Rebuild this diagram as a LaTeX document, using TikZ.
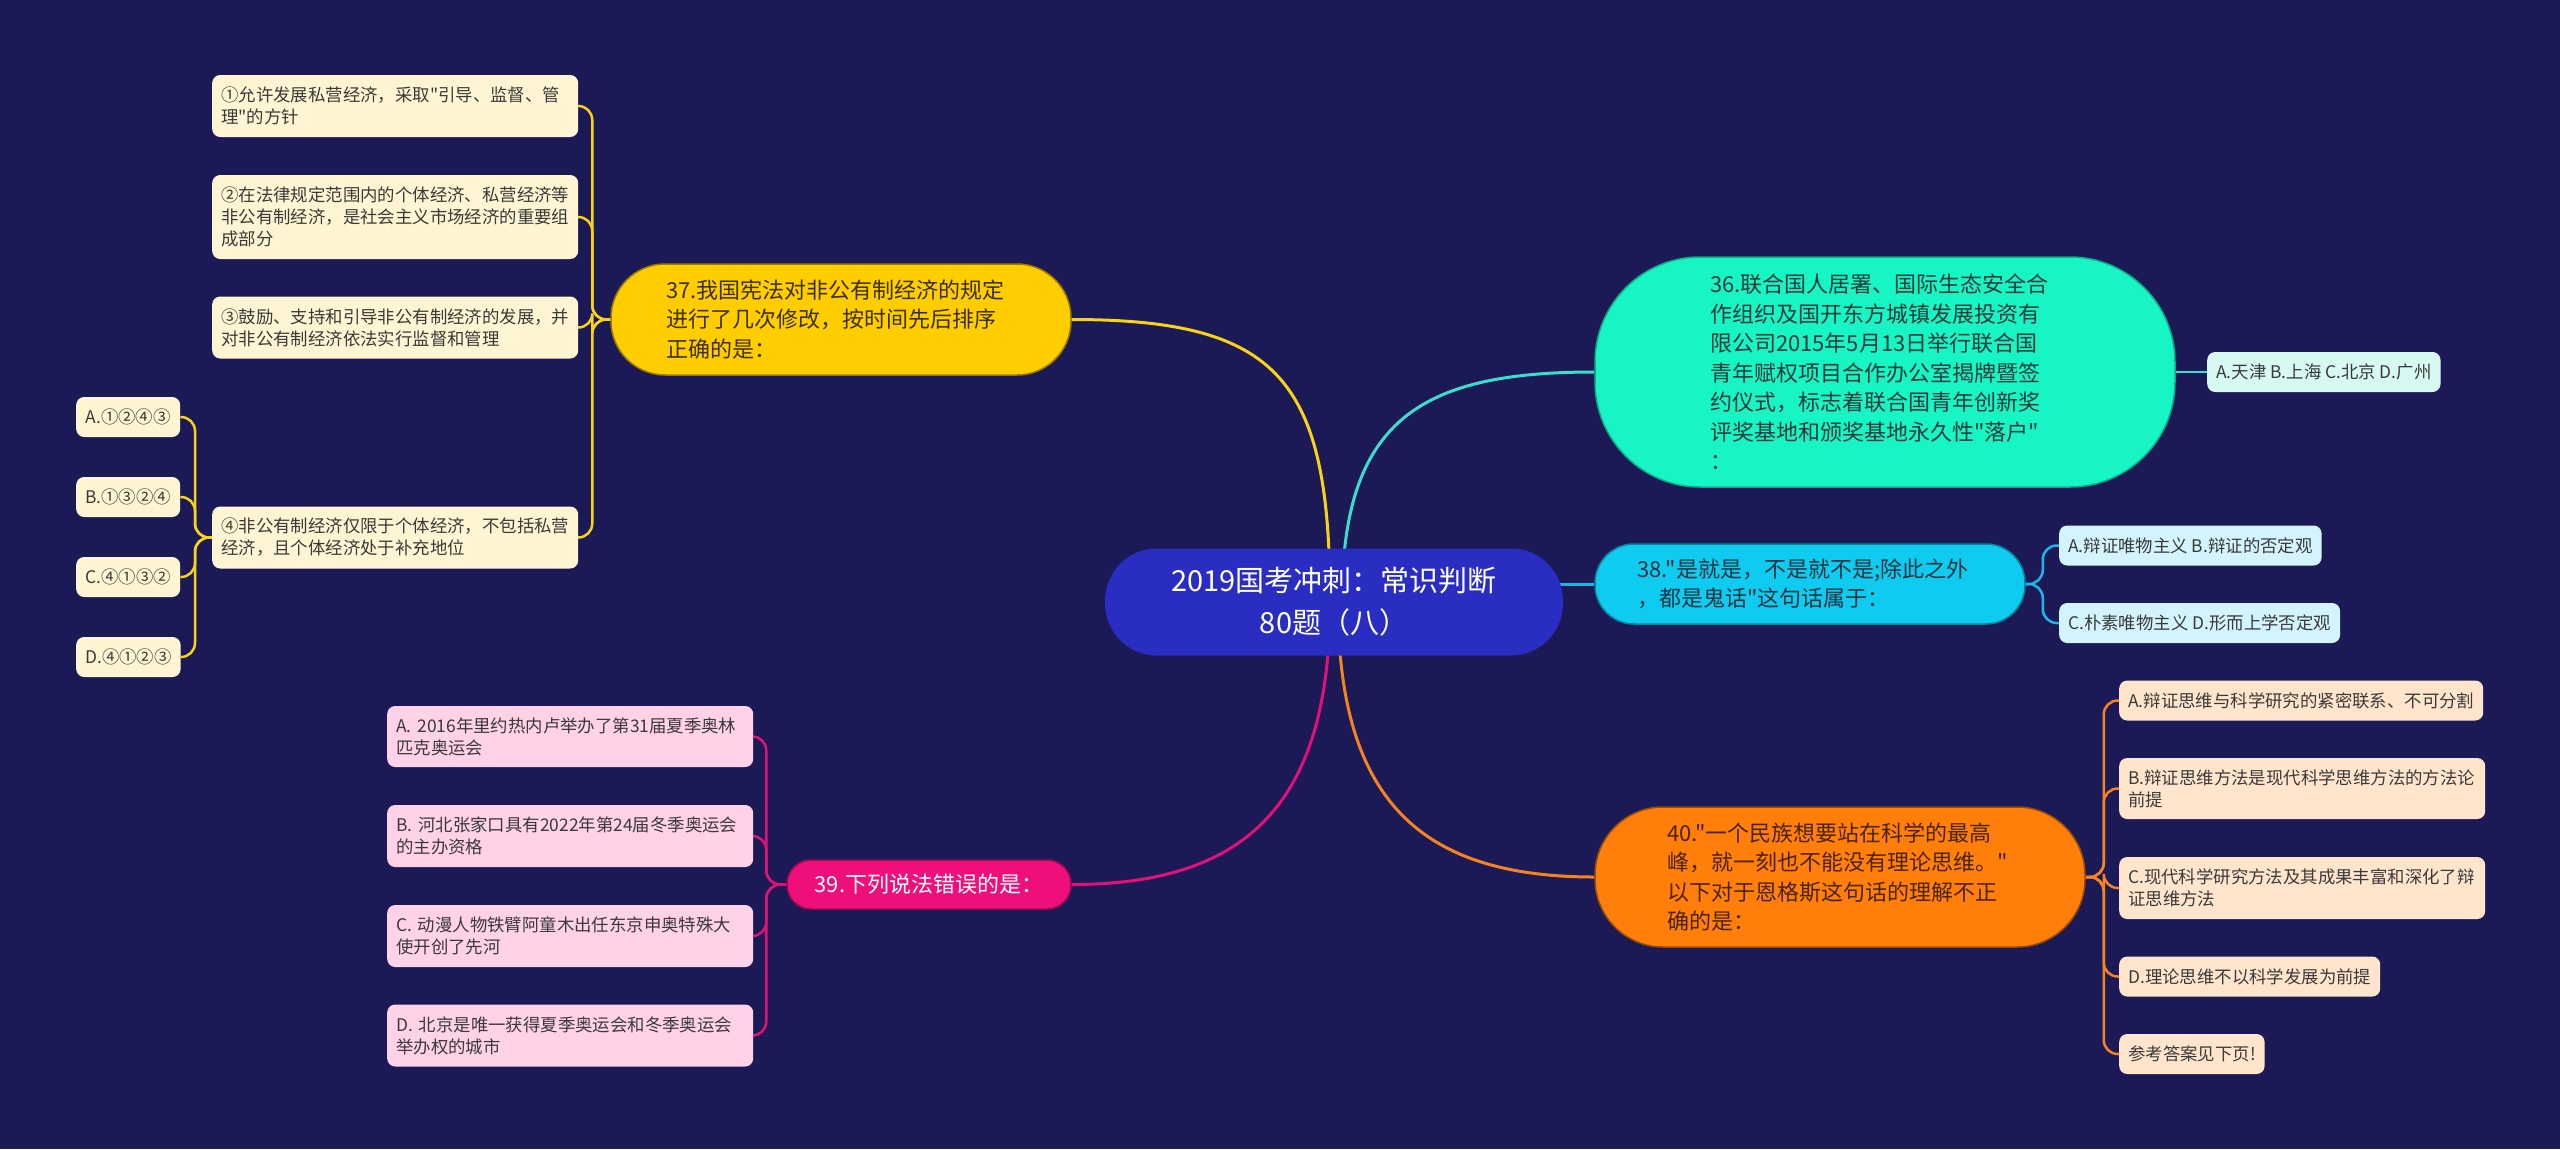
\documentclass[tikz,border=0pt]{standalone}
\usepackage{fontspec}
\setmainfont{Noto Sans CJK SC}
\newfontfamily\cjk{Noto Sans CJK SC}
\usetikzlibrary{calc}
\pgfdeclarelayer{bgl}
\pgfdeclarelayer{edges}
\pgfsetlayers{bgl,edges,main}
\definecolor{bgc}{HTML}{1C1A56}
\definecolor{rootc}{HTML}{2A2DC2}
\definecolor{yfill}{HTML}{FFCD00}
\definecolor{yline}{HTML}{F7D31A}
\definecolor{yleaf}{HTML}{FFF5D2}
\definecolor{ytext}{HTML}{3B3000}
\definecolor{mfill}{HTML}{17F5C4}
\definecolor{mline}{HTML}{3CDCCF}
\definecolor{mleaf}{HTML}{D6FAF1}
\definecolor{mtext}{HTML}{1F3B3A}
\definecolor{cfill}{HTML}{0FCBF0}
\definecolor{cline}{HTML}{1FB6E6}
\definecolor{cleaf}{HTML}{D3F4FC}
\definecolor{ctext}{HTML}{1B3440}
\definecolor{pfill}{HTML}{EE0F7B}
\definecolor{pline}{HTML}{E01277}
\definecolor{pleaf}{HTML}{FFD2E7}
\definecolor{ofill}{HTML}{FF7F0A}
\definecolor{oline}{HTML}{F5831F}
\definecolor{oleaf}{HTML}{FFE5CC}
\definecolor{otext}{HTML}{4A2300}
\definecolor{leaftext}{HTML}{3A3A3A}
\begin{document}
\begin{tikzpicture}[x=1pt,y=-1pt,
  rootbox/.style={rectangle, rounded corners=52pt, fill=rootc, text=white,
    minimum width=458pt, minimum height=107pt, inner sep=0pt, align=center,
    font=\cjk\fontsize{29}{42}\selectfont},
  topicbox/.style={rectangle, inner sep=0pt, align=left, line width=1.5pt,
    font=\cjk\fontsize{22}{29.5}\selectfont},
  leafbox/.style={rectangle, rounded corners=8pt, inner xsep=9pt, inner ysep=0pt,
    align=left, text=leaftext, minimum height=40pt, anchor=west,
    font=\cjk\fontsize{17.4}{22}\selectfont},
  mainline/.style={line width=3pt},
  brk/.style={line width=2.5pt, rounded corners=14pt}
]
\begin{pgfonlayer}{bgl}
\fill[bgc] (0,0) rectangle (2560,1149);
\end{pgfonlayer}
\useasboundingbox (0,0) rectangle (2560,1149);

% root
\node[rootbox] (root) at (1334,602) {2019国考冲刺：常识判断\\80题（八）};

% topics
\node[topicbox, rounded corners=105pt, fill=mfill, draw=mfill!70!black, text=mtext,
  minimum width=580pt, minimum height=230pt, text width=350pt] (t36) at (1885,372)
  {36.联合国人居署、国际生态安全合\\作组织及国开东方城镇发展投资有\\限公司2015年5月13日举行联合国\\青年赋权项目合作办公室揭牌暨签\\约仪式，标志着联合国青年创新奖\\评奖基地和颁奖基地永久性"落户"\\：};
\node[topicbox, rounded corners=54pt, fill=yfill, draw=yfill!60!black, text=ytext,
  minimum width=460pt, minimum height=111pt, text width=350pt] (t37) at (841,319.5)
  {37.我国宪法对非公有制经济的规定\\进行了几次修改，按时间先后排序\\正确的是：};
\node[topicbox, rounded corners=39pt, fill=cfill, draw=cfill!65!black, text=ctext,
  minimum width=430pt, minimum height=80pt, text width=345pt] (t38) at (1810,584)
  {38."是就是，不是就不是;除此之外\\，都是鬼话"这句话属于：};
\node[topicbox, rounded corners=24pt, fill=pfill, draw=pfill!65!black, text=white,
  minimum width=284pt, minimum height=49pt, align=center] (t39) at (929,884.5)
  {39.下列说法错误的是：};
\node[topicbox, rounded corners=68pt, fill=ofill, draw=ofill!60!black, text=otext,
  minimum width=490pt, minimum height=140pt, text width=346pt] (t40) at (1840,877)
  {40."一个民族想要站在科学的最高\\峰，就一刻也不能没有理论思维。"\\以下对于恩格斯这句话的理解不正\\确的是：};

% leaves of 37
\node[leafbox, fill=yleaf, text width=348pt, minimum height=62pt] (n1) at (212,106)
  {①允许发展私营经济，采取"引导、监督、管\\理"的方针};
\node[leafbox, fill=yleaf, text width=348pt, minimum height=84pt] (n2) at (212,217)
  {②在法律规定范围内的个体经济、私营经济等\\非公有制经济，是社会主义市场经济的重要组\\成部分};
\node[leafbox, fill=yleaf, text width=348pt, minimum height=62pt] (n3) at (212,327.5)
  {③鼓励、支持和引导非公有制经济的发展，并\\对非公有制经济依法实行监督和管理};
\node[leafbox, fill=yleaf, text width=348pt, minimum height=62pt] (n4) at (212,537.5)
  {④非公有制经济仅限于个体经济，不包括私营\\经济，且个体经济处于补充地位};
\node[leafbox, fill=yleaf, minimum width=104pt] (a1) at (76,417) {A.①②④③};
\node[leafbox, fill=yleaf, minimum width=104pt] (a2) at (76,497) {B.①③②④};
\node[leafbox, fill=yleaf, minimum width=104pt] (a3) at (76,577) {C.④①③②};
\node[leafbox, fill=yleaf, minimum width=104pt] (a4) at (76,657) {D.④①②③};

% leaf of 36
\node[leafbox, fill=mleaf] (m1) at (2207,372) {A.天津 B.上海 C.北京 D.广州};

% leaves of 38
\node[leafbox, fill=cleaf] (c1) at (2059,545.5) {A.辩证唯物主义 B.辩证的否定观};
\node[leafbox, fill=cleaf] (c2) at (2059,623) {C.朴素唯物主义 D.形而上学否定观};

% leaves of 39
\node[leafbox, fill=pleaf, text width=348pt, minimum height=61pt] (p1) at (387,736.5)
  {A. 2016年里约热内卢举办了第31届夏季奥林\\匹克奥运会};
\node[leafbox, fill=pleaf, text width=348pt, minimum height=62pt] (p2) at (387,836)
  {B. 河北张家口具有2022年第24届冬季奥运会\\的主办资格};
\node[leafbox, fill=pleaf, text width=348pt, minimum height=62pt] (p3) at (387,936)
  {C. 动漫人物铁臂阿童木出任东京申奥特殊大\\使开创了先河};
\node[leafbox, fill=pleaf, text width=348pt, minimum height=62pt] (p4) at (387,1035.5)
  {D. 北京是唯一获得夏季奥运会和冬季奥运会\\举办权的城市};

% leaves of 40
\node[leafbox, fill=oleaf] (o1) at (2119,700.5) {A.辩证思维与科学研究的紧密联系、不可分割};
\node[leafbox, fill=oleaf, text width=348pt, minimum height=61pt] (o2) at (2119,788.5)
  {B.辩证思维方法是现代科学思维方法的方法论\\前提};
\node[leafbox, fill=oleaf, text width=348pt, minimum height=62pt] (o3) at (2119,888)
  {C.现代科学研究方法及其成果丰富和深化了辩\\证思维方法};
\node[leafbox, fill=oleaf] (o4) at (2119,976.5) {D.理论思维不以科学发展为前提};
\node[leafbox, fill=oleaf] (o5) at (2119,1054) {参考答案见下页!};

\begin{pgfonlayer}{edges}
% root to topics
\draw[mainline, yline] (t37.east) .. controls (1280,319.5) and ($(root.center)+(-4,-222)$) .. ($(root.center)+(-4,0)$);
\draw[mainline, mline] (t36.west) .. controls (1420,372) and ($(root.center)+(8,-182)$) .. ($(root.center)+(8,0)$);
\draw[mainline, cline] ($(root.center)+(100,-18)$) -- (t38.west);
\draw[mainline, pline] (t39.east) .. controls (1250,884.5) and ($(root.center)+(-4,198)$) .. ($(root.center)+(-4,0)$);
\draw[mainline, oline] (t40.west) .. controls (1420,877) and ($(root.center)+(4,198)$) .. ($(root.center)+(4,0)$);
% 36
\draw[brk, mline] (t36.east) -- (m1.west);
% 37
\foreach \c in {n1,n2,n3,n4}
  \draw[brk, yline] (t37.west) -- ++(-18,0) |- (\c.east);
\foreach \c in {a1,a2,a3,a4}
  \draw[brk, yline] (n4.west) -- ++(-17,0) |- (\c.east);
% 38
\foreach \c in {c1,c2}
  \draw[brk, cline] (t38.east) -- ++(17,0) |- (\c.west);
% 39
\foreach \c in {p1,p2,p3,p4}
  \draw[brk, pline] (t39.west) -- ++(-20,0) |- (\c.east);
% 40
\foreach \c in {o1,o2,o3,o4,o5}
  \draw[brk, oline] (t40.east) -- ++(18,0) |- (\c.west);
\end{pgfonlayer}
\end{tikzpicture}
\end{document}
